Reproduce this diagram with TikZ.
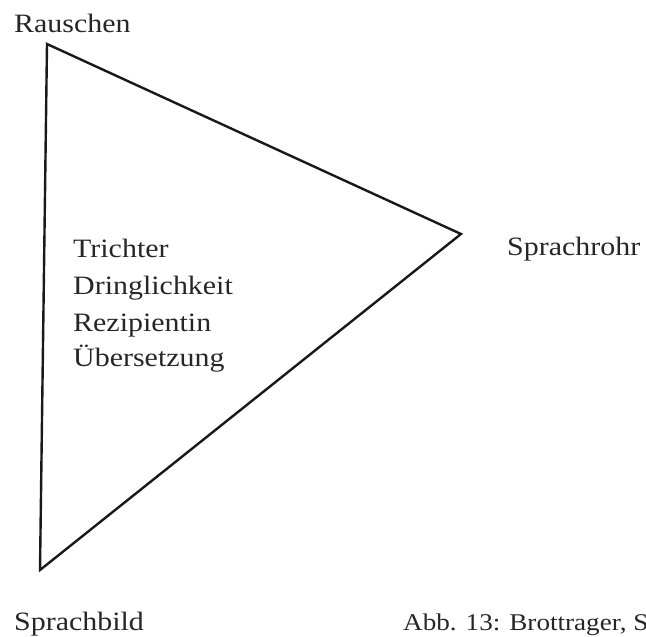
\documentclass[tikz,border=0pt]{standalone}
\usepackage{fontspec}
\setmainfont[FakeStretch=1.13]{Liberation Serif}

\begin{document}
\begin{tikzpicture}[x=1pt,y=-1pt,
  lab/.style={anchor=base west,inner sep=0pt,text=black!85,font=\fontsize{26.5}{31}\selectfont}]
  \useasboundingbox (0,0) rectangle (646,637);
  % Ecken des Dreiecks
  \coordinate (top) at (47,44);
  \coordinate (right) at (461,234);
  \coordinate (bottom) at (40,570);
  \draw[line width=2.4pt,line join=miter,black!90](top)--(right)--(bottom)--cycle;

  \node[lab] (rauschen) at (14,32) {Rauschen};
  \node[lab] (sprachrohr) at (507,255) {Sprachrohr};
  \node[lab] (sprachbild) at (14,630) {Sprachbild};
  \foreach \y/\s in {257/Trichter,294/Dringlichkeit,331/Rezipientin,366/Übersetzung}
  {
    \node[lab] (w\y) at (73,\y) {\s};
  }
  \node[lab,font=\fontsize{24}{28}\selectfont] (abb) at (403,630) {Abb. 13: Brottrager, S};
\end{tikzpicture}
\end{document}
